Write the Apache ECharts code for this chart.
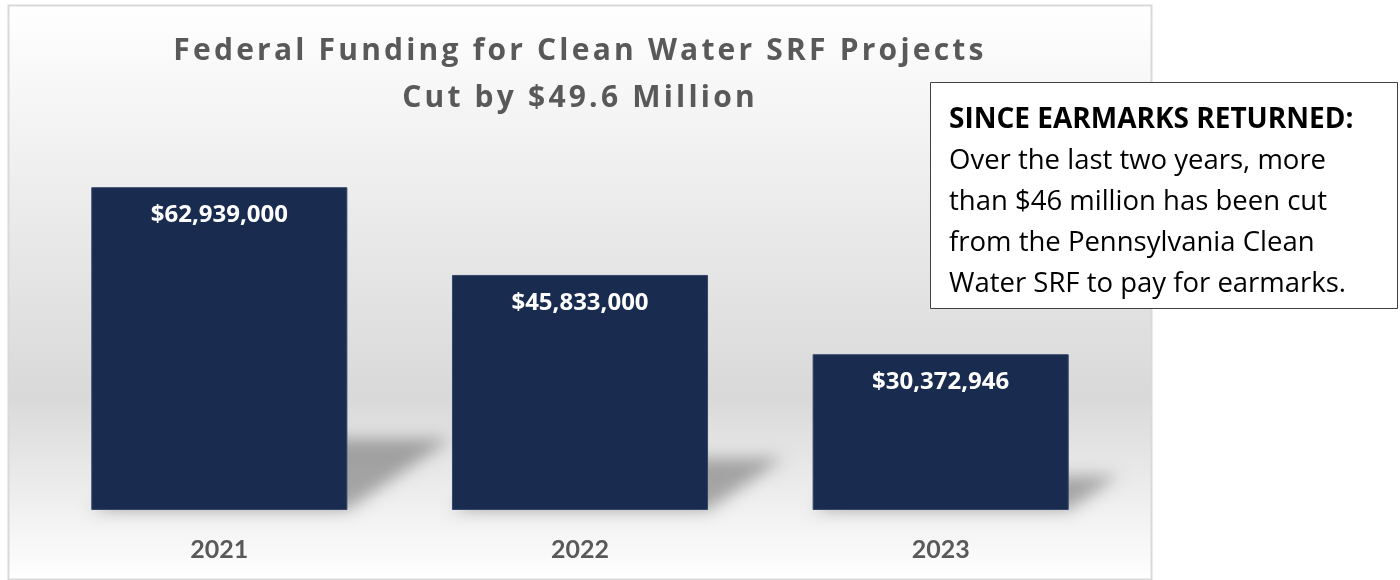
<!DOCTYPE html>
<html>
<head>
<meta charset="utf-8">
<script src="https://cdn.jsdelivr.net/npm/echarts@6/dist/echarts.min.js"></script>
<style>
  html, body { margin: 0; padding: 0; background: #fff; }
  .wrap { position: relative; width: 1400px; height: 580px; }
  #chart { width: 1400px; height: 580px; }
  .chart-title {
    position: absolute;
    left: 0;
    top: 25px;
    width: 1160px;
    margin: 0;
    text-align: center;
    font-family: 'Open Sans', sans-serif;
    font-weight: 700;
    font-size: 30px;
    line-height: 47px;
    letter-spacing: 3.2px;
    color: #595959;
    pointer-events: none;
  }
</style>
</head>
<body>
<div class="wrap">
  <div id="chart"></div>
  <h3 class="chart-title" id="title"></h3>
</div>
<script>
const years = ['2021', '2022', '2023']
const funding = [62939000, 45833000, 30372946]
const titleLines = ['Federal Funding for Clean Water SRF Projects', 'Cut by $49.6 Million']
const noteHead = 'SINCE EARMARKS RETURNED:'
const noteLines = [
  'Over the last two years, more',
  'than $46 million has been cut',
  'from the Pennsylvania Clean',
  'Water SRF to pay for earmarks.'
]

document.getElementById('title').innerHTML = titleLines.join('<br>')

const fmt = (v) => '$' + v.toLocaleString('en-US')

const chart = echarts.init(document.getElementById('chart'))

// soft perspective shadow behind each bar (shape drawn off to the left, only its blurred shadow lands in place)
const OFF = 3000
const shadowItem = (params, api) => {
  const idx = api.value(0)
  const base = api.coord([idx, 0])
  const top = api.coord([idx, api.value(1)])
  const bw = api.size([1, 0])[0] * 0.71
  const h = base[1] - top[1]
  const left = base[0] - bw / 2 - OFF
  const right = base[0] + bw / 2 - OFF
  const dx = h * 0.32
  const dy = h * 0.22
  return {
    type: 'polygon',
    shape: {
      points: [[left, base[1]], [right, base[1]], [right + dx, base[1] - dy], [left + dx, base[1] - dy]]
    },
    style: {
      fill: '#000',
      shadowBlur: 16,
      shadowOffsetX: OFF,
      shadowColor: 'rgba(0,0,0,0.3)'
    }
  }
}

const option = {
  animation: false,
  backgroundColor: '#ffffff',
  graphic: [
    {
      type: 'rect',
      z: -10,
      silent: true,
      shape: { x: 8.5, y: 5.5, width: 1143, height: 574 },
      style: {
        fill: {
          type: 'linear', x: 0, y: 0, x2: 0, y2: 1,
          colorStops: [
            { offset: 0, color: '#ffffff' },
            { offset: 0.68, color: '#d9d9d9' },
            { offset: 1, color: '#ffffff' }
          ]
        },
        stroke: '#d9d9d9',
        lineWidth: 2
      }
    },
    {
      type: 'group',
      z: 100,
      children: [
        {
          type: 'rect',
          shape: { x: 930.5, y: 82.5, width: 467, height: 226 },
          style: { fill: '#ffffff', stroke: '#404040', lineWidth: 1 }
        },
        {
          type: 'text',
          style: {
            x: 949,
            y: 100,
            text: '{h|' + noteHead + '}\n' + noteLines.map((l) => '{b|' + l + '}').join('\n'),
            fill: '#000',
            rich: {
              h: { fontFamily: 'Open Sans', fontWeight: 'bold', fontSize: 28, lineHeight: 41, fill: '#000' },
              b: { fontFamily: 'Open Sans', fontSize: 27.5, lineHeight: 41, fill: '#000' }
            }
          }
        }
      ]
    }
  ],
  grid: { left: 39, right: 279, top: 151, bottom: 70 },
  xAxis: {
    type: 'category',
    data: years,
    axisLine: { show: false },
    axisTick: { show: false },
    axisLabel: {
      margin: 27,
      color: '#595959',
      fontFamily: 'Lato',
      fontWeight: 'bold',
      fontSize: 25
    }
  },
  yAxis: {
    type: 'value',
    min: 0,
    max: 70000000,
    show: false,
    splitLine: { show: false }
  },
  series: [
    {
      type: 'custom',
      z: 1,
      silent: true,
      renderItem: shadowItem,
      data: funding.map((v, i) => [i, v])
    },
    {
      type: 'bar',
      z: 3,
      barWidth: '71%',
      data: funding,
      itemStyle: { color: '#1a2b50', borderColor: '#34466a', borderWidth: 1 },
      label: {
        show: true,
        position: 'insideTop',
        distance: 16,
        formatter: (p) => fmt(p.value),
        color: '#ffffff',
        fontFamily: 'Open Sans',
        fontWeight: 'bold',
        fontSize: 24
      }
    }
  ]
}

chart.setOption(option)
</script>
</body>
</html>
